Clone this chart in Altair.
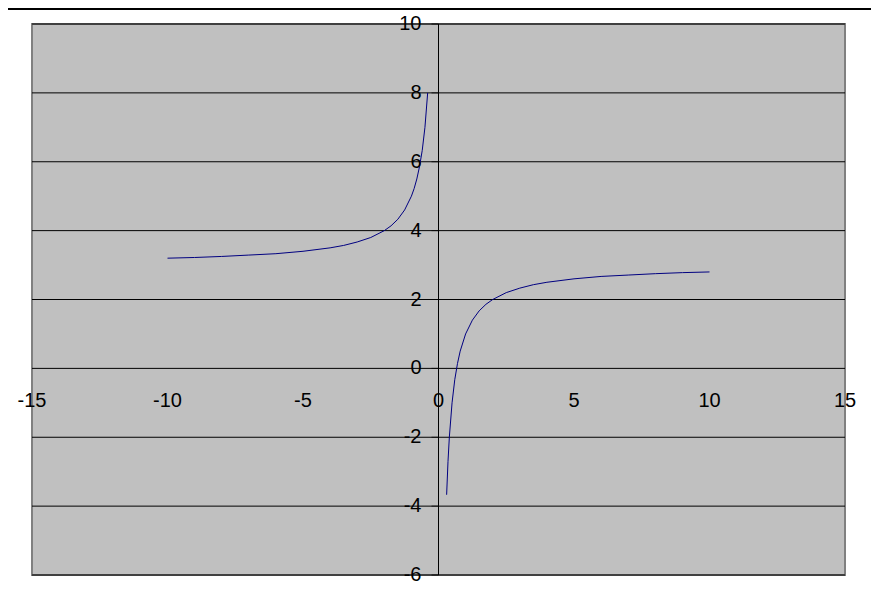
import altair as alt
import pandas as pd

# Values
left_x = [-10, -9, -8, -7, -6, -5, -4, -3.5, -3, -2.5, -2, -1.75, -1.5, -1.25, -1, -0.9, -0.8, -0.7, -0.6, -0.5, -0.4]
left_y = [3.2, 3.22, 3.25, 3.29, 3.33, 3.4, 3.5, 3.57, 3.67, 3.8, 4.0, 4.14, 4.33, 4.6, 5.0, 5.22, 5.5, 5.86, 6.33, 7.0, 8.0]
right_x = [0.3, 0.35, 0.4, 0.5, 0.6, 0.7, 0.8, 1, 1.25, 1.5, 1.75, 2, 2.5, 3, 3.5, 4, 5, 6, 7, 8, 9, 10]
right_y = [-3.67, -2.71, -2.0, -1.0, -0.33, 0.14, 0.5, 1.0, 1.4, 1.67, 1.86, 2.0, 2.2, 2.33, 2.43, 2.5, 2.6, 2.67, 2.71, 2.75, 2.78, 2.8]

y_ticks = [-6, -4, -2, 0, 2, 4, 6, 8, 10]
x_ticks = [-15, -10, -5, 0, 5, 10, 15]

curve = pd.DataFrame({
    "x": left_x + right_x,
    "y": left_y + right_y,
    "branch": ["left"] * len(left_x) + ["right"] * len(right_x),
})
ydf = pd.DataFrame({"y": y_ticks, "x": [0] * len(y_ticks), "label": [str(v) for v in y_ticks]})
xdf = pd.DataFrame({"x": x_ticks, "y": [0] * len(x_ticks), "label": [str(v) for v in x_ticks]})

xs = alt.Scale(domain=[-15, 15], nice=False, zero=False)
ys = alt.Scale(domain=[-6, 10], nice=False, zero=False)
FONT = "Liberation Sans"

grid = alt.Chart(ydf).mark_rule(color="black", strokeWidth=1).encode(
    y=alt.Y("y:Q", scale=ys, axis=None)
)
vaxis = alt.Chart(pd.DataFrame({"x": [0]})).mark_rule(color="black", strokeWidth=1).encode(
    x=alt.X("x:Q", scale=xs, axis=None)
)
yticks = alt.Chart(ydf).mark_tick(color="black", orient="horizontal", size=7, thickness=1, xOffset=-3.5).encode(
    x=alt.X("x:Q", scale=xs, axis=None), y=alt.Y("y:Q", scale=ys, axis=None)
)
ylabels = alt.Chart(ydf).mark_text(align="right", baseline="middle", dx=-17, font=FONT, fontSize=20, color="black").encode(
    x=alt.X("x:Q", scale=xs, axis=None), y=alt.Y("y:Q", scale=ys, axis=None), text="label:N"
)
xlabels = alt.Chart(xdf).mark_text(align="center", baseline="middle", dy=33, font=FONT, fontSize=20, color="black").encode(
    x=alt.X("x:Q", scale=xs, axis=None), y=alt.Y("y:Q", scale=ys, axis=None), text="label:N"
)
line = alt.Chart(curve).mark_line(color="#000080", strokeWidth=1).encode(
    x=alt.X("x:Q", scale=xs, axis=None),
    y=alt.Y("y:Q", scale=ys, axis=None),
    detail="branch:N",
    order="x:Q",
)
topline = alt.Chart(pd.DataFrame({"a": [0]})).mark_rule(color="black", strokeWidth=2).encode(
    x=alt.value(-24), x2=alt.value(845), y=alt.value(-15)
)

chart = alt.layer(grid, vaxis, yticks, line, ylabels, xlabels, topline).properties(
    width=813,
    height=551,
    autosize=alt.AutoSizeParams(type="none"),
    padding={"left": 24, "top": 16, "right": 26, "bottom": 12},
    background="white",
).configure_view(fill="#C0C0C0", stroke="#808080", strokeWidth=2)

chart.save("out.html", embed_options={"renderer": "svg", "actions": False})
